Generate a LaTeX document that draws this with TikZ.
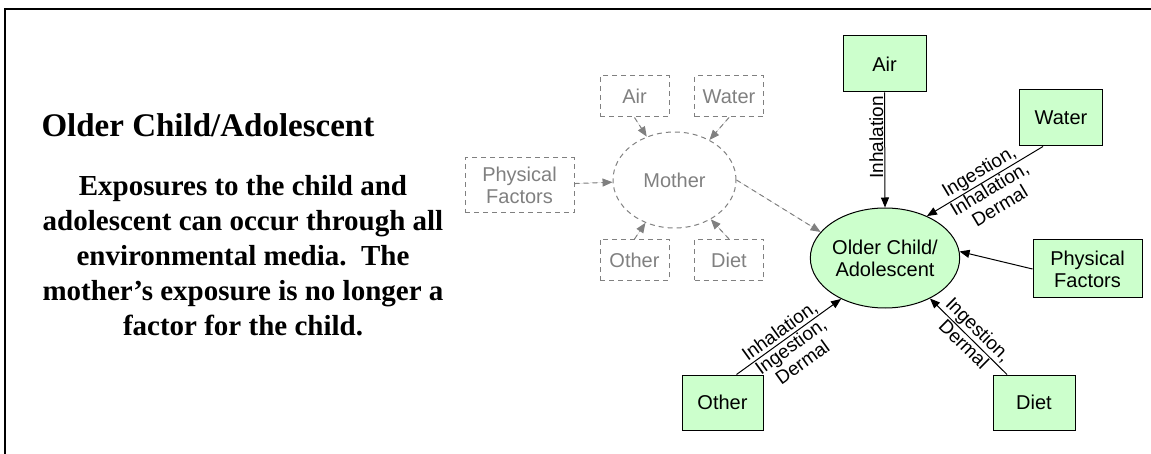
\documentclass[tikz,border=0pt]{standalone}
\usepackage{fontspec}
\setmainfont{Liberation Serif}
\setsansfont{Liberation Sans}
\usetikzlibrary{arrows.meta}
\usetikzlibrary{shapes.geometric}
\definecolor{boxgreen}{RGB}{204,255,204}
\definecolor{fadegray}{RGB}{128,128,128}

\begin{document}
\begin{tikzpicture}[>={Triangle[length=10pt,width=8pt]},x=1pt,y=-1pt,
    greenbox/.style={draw,fill=boxgreen,line width=1pt,minimum width=83pt,minimum height=56pt,
        inner sep=2pt,align=center,font=\sffamily\fontsize{20}{22}\selectfont},
    graybox/.style={draw=fadegray,text=fadegray,line width=1pt,dash pattern=on 5pt off 4pt,
        minimum width=69pt,minimum height=41pt,inner sep=2pt,align=center,
        font=\sffamily\fontsize{20}{22}\selectfont},
    link/.style={->,line width=1pt},
    graylink/.style={->,draw=fadegray,fill=fadegray,line width=1pt,dash pattern=on 5pt off 4pt},
    pathlabel/.style={inner sep=1pt,align=center,font=\sffamily\fontsize{19}{20}\selectfont}]
                        \useasboundingbox (0,0) rectangle (1151,454);
                        \draw[line width=1.5pt] (5,460) -- (5,9) -- (1160,9);
                        \node[anchor=base west,font=\bfseries\fontsize{33}{40}\selectfont] (title) at (38,137) {Older Child/Adolescent};
                        \node[align=center,font=\bfseries\fontsize{29}{35}\selectfont] (body) at (243,256)
                            {Exposures to the child and\\adolescent can occur through all\\environmental media.\ \ The\\mother’s exposure is no longer a\\factor for the child.};
                        \node[graybox,ellipse,minimum width=123pt,minimum height=96pt,inner sep=0pt] (mother) at (674.5,180) {Mother};
                        \node[graybox] (airM) at (634.5,96.5) {Air};
                        \node[graybox] (waterM) at (729,96.5) {Water};
                        \node[graybox,minimum width=109pt,minimum height=55pt] (physM) at (519.5,185.5) {Physical\\Factors};
                        \node[graybox] (otherM) at (634.5,260) {Other};
                        \node[graybox] (dietM) at (729,260) {Diet};
                        \draw[graylink] (airM.south) -- (mother);
                        \draw[graylink] (waterM.south) -- (mother);
                        \draw[graylink] (physM) -- (mother);
                        \draw[graylink] (otherM.north) -- (mother);
                        \draw[graylink] (dietM.north) -- (mother);
                        \node[greenbox,ellipse,minimum width=136pt,minimum height=100pt,inner sep=0pt] (child) at (885,258) {Older Child/\\Adolescent};
                        \node[greenbox] (airC) at (884.5,64) {Air};
                        \node[greenbox] (waterC) at (1061,118) {Water};
                        \node[greenbox,minimum width=109pt,minimum height=58pt] (physC) at (1087.5,269) {Physical\\Factors};
                        \node[greenbox,minimum width=81pt,minimum height=55pt] (otherC) at (722.5,402.5) {Other};
                        \node[greenbox,minimum width=82pt,minimum height=55pt] (dietC) at (1034,402.5) {Diet};
                        \draw[graylink] (mother.east) -- (child.158);
                        \draw[link] (airC.south) -- (child.north)
                            node[pathlabel,pos=0.39,rotate=90,anchor=south] {Inhalation};
                        \draw[link] ([xshift=-18pt]waterC.south) -- (child.45)
                            node[pathlabel,pos=0.5,sloped,above] {Ingestion,}
                            node[pathlabel,pos=0.5,sloped,below] {Inhalation,\\Dermal};
                        \draw[link] (physC.west) -- (child.5);
                        \draw[link] ([xshift=14pt]otherC.north) -- (child.223)
                            node[pathlabel,pos=0.47,sloped,above] {Inhalation,}
                            node[pathlabel,pos=0.47,sloped,below] {Ingestion,\\Dermal};
                        \draw[link] ([xshift=-27pt]dietC.north) -- (child.-42)
                            node[pathlabel,pos=0.48,sloped,above] {Ingestion,}
                            node[pathlabel,pos=0.48,sloped,below] {Dermal};
                    \end{tikzpicture}
\end{document}
